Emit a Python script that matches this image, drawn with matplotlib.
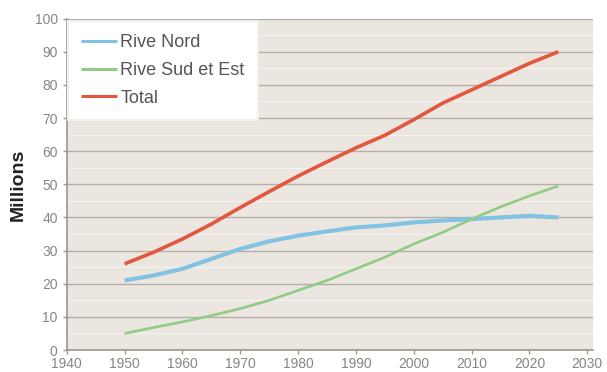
import matplotlib
matplotlib.use("Agg")
import matplotlib.pyplot as plt
from matplotlib.ticker import MultipleLocator
from matplotlib.transforms import ScaledTranslation

plt.rcParams["font.family"] = ["Liberation Sans", "DejaVu Sans"]

years = [1950, 1955, 1960, 1965, 1970, 1975, 1980, 1985, 1990, 1995, 2000, 2005, 2010, 2015, 2020, 2025]
rive_nord = [21.0, 22.5, 24.5, 27.5, 30.5, 32.8, 34.5, 35.8, 37.0, 37.6, 38.5, 39.1, 39.5, 40.0, 40.5, 40.0]
rive_sud_est = [5.0, 6.8, 8.5, 10.4, 12.5, 15.0, 18.0, 21.0, 24.5, 28.0, 32.0, 35.5, 39.5, 43.2, 46.5, 49.5]
total = [26.0, 29.5, 33.5, 38.0, 43.0, 47.8, 52.5, 56.8, 61.0, 64.8, 69.5, 74.5, 78.5, 82.5, 86.5, 90.0]

series_labels = ["Rive Nord", "Rive Sud et Est", "Total"]
y_label = "Millions"

fig = plt.figure(figsize=(6.07, 3.72), dpi=100)
ax = fig.add_axes([0.110, 0.059, 0.867, 0.891])
ax.set_facecolor("#ebe7e0")

ax.set_xlim(1940, 2031)
ax.set_ylim(0, 100)
ax.xaxis.set_major_locator(MultipleLocator(10))
ax.yaxis.set_major_locator(MultipleLocator(10))
ax.yaxis.set_minor_locator(MultipleLocator(5))

ax.grid(axis="y", which="major", color="#b3aea7", linewidth=1.0)
ax.grid(axis="y", which="minor", color="#f5f3ef", linewidth=0.8)
ax.set_axisbelow(True)

ax.plot(years, rive_nord, color="#82c3e3", linewidth=3.0, solid_capstyle="butt", label=series_labels[0])
ax.plot(years, rive_sud_est, color="#92cb86", linewidth=1.9, solid_capstyle="butt", label=series_labels[1])
ax.plot(years, total, color="#e3563f", linewidth=2.6, solid_capstyle="butt", label=series_labels[2])

for side in ("top", "right"):
    ax.spines[side].set_visible(False)
for side in ("left", "bottom"):
    ax.spines[side].set_color("#9a958f")
    ax.spines[side].set_linewidth(1.2)

ax.tick_params(axis="both", which="major", colors="#9a958f", labelcolor="#8a8580",
               labelsize=10, length=3, width=1)
ax.tick_params(axis="y", which="minor", length=0)
shift = ScaledTranslation(5 / 100, 0, fig.dpi_scale_trans)
for lbl in ax.get_xticklabels():
    lbl.set_transform(lbl.get_transform() + shift)
ax.tick_params(axis="x", pad=2)

ax.set_ylabel(y_label, fontsize=14, fontweight="bold", color="#222222", labelpad=6)

leg = ax.legend(loc="upper left", bbox_to_anchor=(0.002, 0.994), frameon=True, fancybox=False,
                framealpha=1.0, edgecolor="#f2f0ec", facecolor="white", fontsize=13,
                handlelength=2.0, handletextpad=0.15, labelspacing=0.6,
                borderpad=0.75, borderaxespad=0.0)
leg.get_frame().set_linewidth(1.5)
for t in leg.get_texts():
    t.set_color("#555555")
for h in leg.get_lines():
    h.set_linewidth(2.2)

fig.savefig("out.png", dpi=100)
